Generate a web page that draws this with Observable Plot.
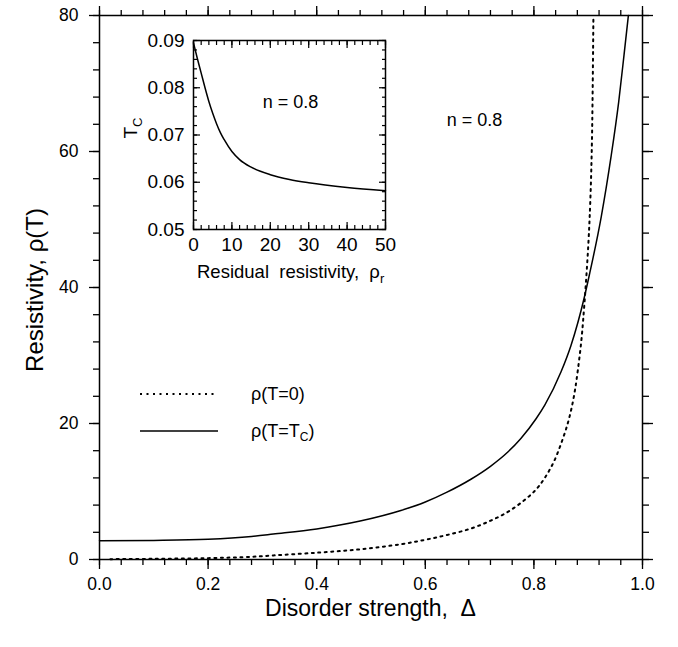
<!DOCTYPE html>
<html><head><meta charset="utf-8">
<script src="https://cdn.jsdelivr.net/npm/d3@7"></script>
<script src="https://cdn.jsdelivr.net/npm/@observablehq/plot@0.6"></script>
<style>
body{margin:0;background:#fff;}
#wrap{position:relative;width:678px;height:647px;}
#wrap svg{position:absolute;left:0;top:0;}
</style></head><body><div id="wrap"></div>
<script>
// ---- main chart data ----
const deltaTc = [0, 0.1, 0.2, 0.28, 0.32, 0.4, 0.48, 0.555, 0.6, 0.64, 0.684, 0.72, 0.752, 0.776, 0.804, 0.82, 0.85, 0.868, 0.893, 0.902, 0.924, 0.942, 0.956, 0.966, 0.974];
const rhoTc   = [2.74, 2.8, 2.98, 3.4, 3.75, 4.5, 5.65, 7.2, 8.45, 9.9, 11.8, 13.7, 15.8, 17.8, 20.7, 22.7, 27.6, 31.4, 38.6, 41.8, 50.4, 59.2, 67.2, 74.2, 80];
const deltaT0 = [0.02, 0.1, 0.2, 0.28, 0.32, 0.4, 0.48, 0.555, 0.6, 0.64, 0.684, 0.72, 0.752, 0.782, 0.804, 0.82, 0.838, 0.856, 0.864, 0.87, 0.875, 0.879, 0.887, 0.893, 0.9, 0.904, 0.907, 0.9096];
const rhoT0   = [0.05, 0.1, 0.2, 0.4, 0.6, 1.0, 1.5, 2.25, 2.9, 3.6, 4.55, 5.7, 7.0, 8.7, 10.3, 12.0, 14.6, 18.4, 20.5, 22.5, 24.6, 26.7, 31.9, 37.6, 46, 53, 62, 80];
const xMajor = [0, 0.2, 0.4, 0.6, 0.8, 1.0];
const yMajor = [0, 20, 40, 60, 80];
// ---- inset data ----
const rhoR = [0, 1, 2, 3, 4, 5, 6, 7, 8, 10, 12, 15, 20, 25, 30, 40, 50];
const tcVal = [0.0895, 0.0862, 0.0831, 0.0800, 0.0771, 0.0746, 0.0724, 0.0705, 0.0690, 0.0665, 0.0648, 0.0632, 0.0616, 0.0606, 0.0599, 0.0589, 0.0582];
const insetXMajor = [0, 10, 20, 30, 40, 50];
const insetYMajor = [0.05, 0.06, 0.07, 0.08, 0.09];
const labels = {
  x: "Disorder strength,  \u0394",
  y: "Resistivity, \u03c1(T)",
  n: "n = 0.8",
  insetX: "Residual  resistivity,  \u03c1",
  insetXSub: "r",
  insetY: "T", insetYSub: "C",
  leg0: "\u03c1(T=0)",
  legC: ["\u03c1(T=T", "C", ")"]
};

const FONT = "'Liberation Sans', Arial, Helvetica, sans-serif";
const xMinor = d3.range(0, 1.0001, 0.04);
const yMinor = d3.range(0, 80.001, 4);
const iXMinor = d3.range(0, 50.001, 2);
const iYMinor = d3.range(0.05, 0.09001, 0.002);

const tcData = deltaTc.map((d, i) => ({x: d, y: rhoTc[i]}));
const t0Data = deltaT0.map((d, i) => ({x: d, y: rhoT0[i]}));
const insetData = rhoR.map((d, i) => ({x: d, y: tcVal[i]}));

const blank = () => "";
const main = Plot.plot({
  width: 678, height: 647,
  marginLeft: 99, marginRight: 36, marginTop: 15, marginBottom: 88,
  style: {fontFamily: FONT, background: "white", color: "#000", overflow: "visible"},
  x: {domain: [0, 1]},
  y: {domain: [0, 80]},
  marks: [
    Plot.axisX({anchor: "bottom", ticks: xMinor, tickSize: 6, tickFormat: blank, label: null, strokeWidth: 1.3}),
    Plot.axisX({anchor: "bottom", ticks: xMajor, tickSize: 10, tickFormat: blank, label: null, strokeWidth: 1.3}),
    Plot.axisX({anchor: "bottom", ticks: xMajor, tickSize: 0, tickPadding: 18, tickFormat: d => d.toFixed(1), label: null, fontSize: 17.5}),
    Plot.axisX({anchor: "top", ticks: xMinor, tickSize: 6, tickFormat: blank, label: null, strokeWidth: 1.3}),
    Plot.axisX({anchor: "top", ticks: xMajor, tickSize: 10, tickFormat: blank, label: null, strokeWidth: 1.3}),
    Plot.axisY({anchor: "left", ticks: yMinor, tickSize: 6, tickFormat: blank, label: null, strokeWidth: 1.3}),
    Plot.axisY({anchor: "left", ticks: yMajor, tickSize: 10, tickFormat: blank, label: null, strokeWidth: 1.3}),
    Plot.axisY({anchor: "left", ticks: yMajor, tickSize: 0, tickPadding: 21, tickFormat: d => String(d), label: null, fontSize: 17.5}),
    Plot.axisY({anchor: "right", ticks: yMinor, tickSize: 6, tickFormat: blank, label: null, strokeWidth: 1.3}),
    Plot.axisY({anchor: "right", ticks: yMajor, tickSize: 10, tickFormat: blank, label: null, strokeWidth: 1.3}),
    Plot.line(t0Data, {x: "x", y: "y", curve: "catmull-rom", stroke: "#000", strokeWidth: 2, strokeDasharray: "2,4.5"}),
    Plot.line(tcData, {x: "x", y: "y", curve: "monotone-x", stroke: "#000", strokeWidth: 1.5}),
    Plot.frame({stroke: "#000", strokeWidth: 1.5}),
    Plot.text([labels.n], {frameAnchor: "top-left", dx: 375, dy: 105, textAnchor: "middle", lineAnchor: "middle", fontSize: 18})
  ]
});
document.getElementById("wrap").appendChild(main);

const msvg = d3.select(main);
// axis titles
msvg.append("text").attr("x", 370.5).attr("y", 616).attr("text-anchor", "middle")
  .attr("font-family", FONT).attr("font-size", 23).attr("fill", "#000")
  .style("white-space", "pre").text(labels.x);
msvg.append("text").attr("transform", "translate(43,290) rotate(-90)").attr("text-anchor", "middle")
  .attr("font-family", FONT).attr("font-size", 24).attr("fill", "#000").text(labels.y);
// legend
const leg = msvg.append("g").attr("font-family", FONT).attr("font-size", 18).attr("fill", "#000").attr("text-anchor", "start");
leg.append("line").attr("x1", 140).attr("x2", 218).attr("y1", 394).attr("y2", 394)
  .attr("stroke", "#000").attr("stroke-width", 2).attr("stroke-dasharray", "2,4.5");
leg.append("text").attr("x", 251).attr("y", 400).attr("text-anchor", "start").text(labels.leg0);
leg.append("line").attr("x1", 140).attr("x2", 218).attr("y1", 431).attr("y2", 431)
  .attr("stroke", "#000").attr("stroke-width", 1.5);
const lt = leg.append("text").attr("x", 251).attr("y", 437).attr("text-anchor", "start");
lt.append("tspan").text(labels.legC[0]);
lt.append("tspan").attr("font-size", 12).attr("dy", 4).text(labels.legC[1]);
lt.append("tspan").attr("dy", -4).text(labels.legC[2]);

// ---- inset ----
const inset = Plot.plot({
  width: 272, height: 279,
  marginLeft: 60, marginRight: 20, marginTop: 15, marginBottom: 75,
  style: {fontFamily: FONT, background: "transparent", color: "#000", overflow: "visible"},
  x: {domain: [0, 50]},
  y: {domain: [0.05, 0.09]},
  marks: [
    Plot.frame({fill: "white"}),
    Plot.axisX({anchor: "bottom", ticks: iXMinor, tickSize: -4, tickFormat: blank, label: null, strokeWidth: 1.2}),
    Plot.axisX({anchor: "bottom", ticks: insetXMajor, tickSize: -7, tickFormat: blank, label: null, strokeWidth: 1.2}),
    Plot.axisX({anchor: "top", ticks: iXMinor, tickSize: -4, tickFormat: blank, label: null, strokeWidth: 1.2}),
    Plot.axisX({anchor: "top", ticks: insetXMajor, tickSize: -7, tickFormat: blank, label: null, strokeWidth: 1.2}),
    Plot.axisX({anchor: "bottom", ticks: insetXMajor, tickSize: 0, tickPadding: 8, tickFormat: d => String(d), label: null, fontSize: 19}),
    Plot.axisY({anchor: "left", ticks: iYMinor, tickSize: -4, tickFormat: blank, label: null, strokeWidth: 1.2}),
    Plot.axisY({anchor: "left", ticks: insetYMajor, tickSize: -7, tickFormat: blank, label: null, strokeWidth: 1.2}),
    Plot.axisY({anchor: "right", ticks: iYMinor, tickSize: -4, tickFormat: blank, label: null, strokeWidth: 1.2}),
    Plot.axisY({anchor: "right", ticks: insetYMajor, tickSize: -7, tickFormat: blank, label: null, strokeWidth: 1.2}),
    Plot.axisY({anchor: "left", ticks: insetYMajor, tickSize: 0, tickPadding: 9, tickFormat: d => d.toFixed(2), label: null, fontSize: 19}),
    Plot.line(insetData, {x: "x", y: "y", curve: "monotone-x", stroke: "#000", strokeWidth: 1.5}),
    Plot.frame({stroke: "#000", strokeWidth: 1.5}),
    Plot.text([labels.n], {frameAnchor: "top-left", dx: 97, dy: 62, textAnchor: "middle", lineAnchor: "middle", fontSize: 18})
  ]
});
inset.style.left = "133px";
inset.style.top = "25px";
document.getElementById("wrap").appendChild(inset);
const isvg = d3.select(inset);
const ix = isvg.append("text").attr("x", 64).attr("y", 253).attr("text-anchor", "start").attr("font-family", FONT)
  .attr("font-size", 18.5).attr("fill", "#000").style("white-space", "pre");
ix.append("tspan").text(labels.insetX);
ix.append("tspan").attr("font-size", 13).attr("dy", 5).text(labels.insetXSub);
const iy = isvg.append("text").attr("transform", "translate(4,103) rotate(-90)").attr("text-anchor", "middle")
  .attr("font-family", FONT).attr("font-size", 19).attr("fill", "#000");
iy.append("tspan").text(labels.insetY);
iy.append("tspan").attr("font-size", 13).attr("dy", 5).text(labels.insetYSub);
</script></body></html>
